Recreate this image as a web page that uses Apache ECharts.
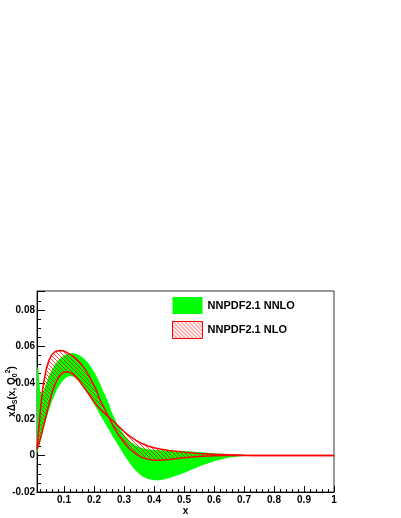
<!DOCTYPE html>
<html>
<head>
<meta charset="utf-8">
<script src="https://cdn.jsdelivr.net/npm/echarts@6/dist/echarts.min.js"></script>
<style>
html,body{margin:0;padding:0;background:#fff;}
#chart{width:401px;height:518px;}
</style>
</head>
<body>
<div id="chart"></div>
<script>
// ---- data ----
var xs = [0.01,0.0125,0.015,0.0175,0.02,0.025,0.03,0.04,0.05,0.06,0.07,0.08,0.09,0.10,0.11,0.12,0.13,0.14,0.15,0.16,0.17,0.18,0.19,0.20,0.21,0.22,0.23,0.24,0.25,0.26,0.27,0.28,0.30,0.32,0.34,0.36,0.38,0.40,0.42,0.45,0.50,0.55,0.60,0.65,0.70,0.75,0.80,0.90,1.00];

// NNPDF2.1 NNLO band (green)
var nnloUpper = [0.047,0.049,0.047,0.041,0.036,0.033,0.0345,0.0395,0.0438,0.0472,0.050,0.0522,0.0538,0.055,0.0558,0.0562,0.0563,0.056,0.0552,0.0542,0.0528,0.051,0.0487,0.046,0.043,0.0395,0.0358,0.032,0.0283,0.0235,0.0198,0.0165,0.0115,0.0078,0.0055,0.0042,0.0035,0.0031,0.0029,0.0027,0.0025,0.002,0.0013,0.0007,0.0003,0.0001,0,0,0];
var nnloLower = [0.001,0.0025,0.004,0.0055,0.007,0.0105,0.014,0.0195,0.025,0.0298,0.0338,0.0372,0.0398,0.0418,0.0432,0.0437,0.0434,0.0424,0.0408,0.0388,0.0365,0.0339,0.0312,0.0284,0.0255,0.0226,0.0197,0.0168,0.014,0.0112,0.0085,0.0058,0.0005,-0.0045,-0.0085,-0.0113,-0.0128,-0.0135,-0.0136,-0.0125,-0.0095,-0.006,-0.0031,-0.0011,-0.0002,0,0,0,0];

// NNPDF2.1 NLO band (red hatched) - the two red boundary curves
var nloCurveA = [0.0035,0.008,0.013,0.018,0.0225,0.031,0.038,0.047,0.0525,0.0555,0.057,0.0576,0.0577,0.0574,0.0566,0.0556,0.0546,0.0532,0.0515,0.0497,0.0475,0.0448,0.0418,0.0386,0.0352,0.0305,0.0275,0.0242,0.0208,0.0175,0.0145,0.0118,0.0072,0.0035,0.0008,-0.001,-0.002,-0.0025,-0.0026,-0.0022,-0.0012,-0.0005,-0.0001,0,0,0,0,0,0];
var nloCurveB = [0.0035,0.0045,0.0058,0.007,0.0085,0.0115,0.0148,0.0215,0.0283,0.0343,0.039,0.0425,0.0447,0.0458,0.046,0.0456,0.0446,0.0431,0.0412,0.039,0.0367,0.0343,0.0319,0.0296,0.0275,0.0257,0.024,0.0225,0.021,0.0195,0.018,0.0163,0.0132,0.0105,0.0083,0.0066,0.0053,0.0043,0.0036,0.0028,0.0019,0.0012,0.0007,0.0004,0.0002,0.0001,0,0,0];

var seriesNames = ['NNPDF2.1 NNLO', 'NNPDF2.1 NLO'];
var yTitle = '{a|x\u0394}{b|S}{a|(x, Q}{b|0}{c|2}{a|)}';
var xTitle = 'x';

// ---- hatch pattern ----
var pat = document.createElement('canvas');
pat.width = 4; pat.height = 4;
var pc = pat.getContext('2d');
pc.strokeStyle = 'rgba(255,0,0,0.8)';
pc.lineWidth = 0.9;
for (var k = -4; k <= 4; k += 4) {
  pc.beginPath(); pc.moveTo(k, 0); pc.lineTo(k + 4, 4); pc.stroke();
}
var hatch = { image: pat, repeat: 'repeat' };

function pairs(x, y) { return x.map(function (v, i) { return [v, y[i]]; }); }

function band(name, up, lo, style) {
  return {
    type: 'custom',
    name: name,
    coordinateSystem: 'cartesian2d',
    data: [[xs[0], up[0]]],
    silent: true,
    renderItem: function (params, api) {
      var pts = [];
      for (var i = 0; i < xs.length; i++) pts.push(api.coord([xs[i], up[i]]));
      for (var j = xs.length - 1; j >= 0; j--) pts.push(api.coord([xs[j], lo[j]]));
      return { type: 'polygon', shape: { points: pts }, style: style };
    }
  };
}

var FONT = 'Liberation Sans, Arial, Helvetica, sans-serif';
var chart = echarts.init(document.getElementById('chart'), null, { renderer: 'canvas' });
chart.setOption({
  animation: false,
  backgroundColor: '#fff',
  grid: { left: 37, right: 67, top: 291, bottom: 26, containLabel: false, outerBoundsMode: 'none',
          show: true, borderColor: '#333', borderWidth: 1, backgroundColor: 'transparent' },
  legend: {
    left: 172, top: 297, orient: 'vertical', itemWidth: 30, itemHeight: 17, itemGap: 7, padding: 0,
    selectedMode: false,
    textStyle: { fontFamily: FONT, fontWeight: 'bold', fontSize: 11, color: '#000' },
    data: [
      { name: seriesNames[0], icon: 'rect', itemStyle: { color: '#00ff00', borderWidth: 0 } },
      { name: seriesNames[1], icon: 'rect', itemStyle: { color: hatch, borderColor: '#ff0000', borderWidth: 1 } }
    ]
  },
  xAxis: {
    type: 'value', min: 0.01, max: 1, splitNumber: 10,
    name: xTitle, nameLocation: 'middle', nameGap: 14, nameMoveOverlap: false,
    nameTextStyle: { fontFamily: FONT, fontWeight: 'bold', fontSize: 10, color: '#000' },
    axisLine: { show: true, onZero: false, lineStyle: { color: '#000', width: 1 } },
    axisTick: { show: true, inside: true, length: 6, lineStyle: { color: '#000' } },
    minorTick: { show: true, splitNumber: 5, length: 3, lineStyle: { color: '#000' } },
    splitLine: { show: false },
    axisLabel: {
      showMinLabel: false, margin: 3,
      fontFamily: FONT, fontWeight: 'bold', fontSize: 10, color: '#000',
      formatter: function (v) {
        var r = Math.round(v * 10);
        if (Math.abs(v * 10 - r) > 1e-6) return '';
        return String(r / 10);
      }
    }
  },
  yAxis: {
    type: 'value', min: -0.02, max: 0.0904, interval: 0.02,
    name: yTitle, nameLocation: 'middle', nameGap: 18, nameRotate: 90, nameMoveOverlap: false,
    nameTextStyle: {
      rich: {
        a: { fontFamily: FONT, fontWeight: 'bold', fontSize: 10, color: '#000', lineHeight: 14 },
        b: { fontFamily: FONT, fontWeight: 'bold', fontSize: 7, color: '#000', lineHeight: 14, verticalAlign: 'bottom' },
        c: { fontFamily: FONT, fontWeight: 'bold', fontSize: 7, color: '#000', lineHeight: 14, verticalAlign: 'top' }
      }
    },
    axisLine: { show: true, onZero: false, lineStyle: { color: '#000', width: 1 } },
    axisTick: { show: true, inside: true, length: 8, lineStyle: { color: '#000' } },
    minorTick: { show: true, splitNumber: 4, length: 4, lineStyle: { color: '#000' } },
    splitLine: { show: false },
    axisLabel: { showMaxLabel: false, margin: 2, fontFamily: FONT, fontWeight: 'bold', fontSize: 10, color: '#000' }
  },
  series: [
    band(seriesNames[0], nnloUpper, nnloLower, { fill: '#00ff00', stroke: null }),
    band(seriesNames[1], nloCurveA, nloCurveB, { fill: hatch, stroke: null }),
    { type: 'line', name: 'NLO curve A', data: pairs(xs, nloCurveA), symbol: 'none', silent: true,
      lineStyle: { color: '#ff0000', width: 1.5 } },
    { type: 'line', name: 'NLO curve B', data: pairs(xs, nloCurveB), symbol: 'none', silent: true,
      lineStyle: { color: '#ff0000', width: 1.5 } }
  ]
});
</script>
</body>
</html>
